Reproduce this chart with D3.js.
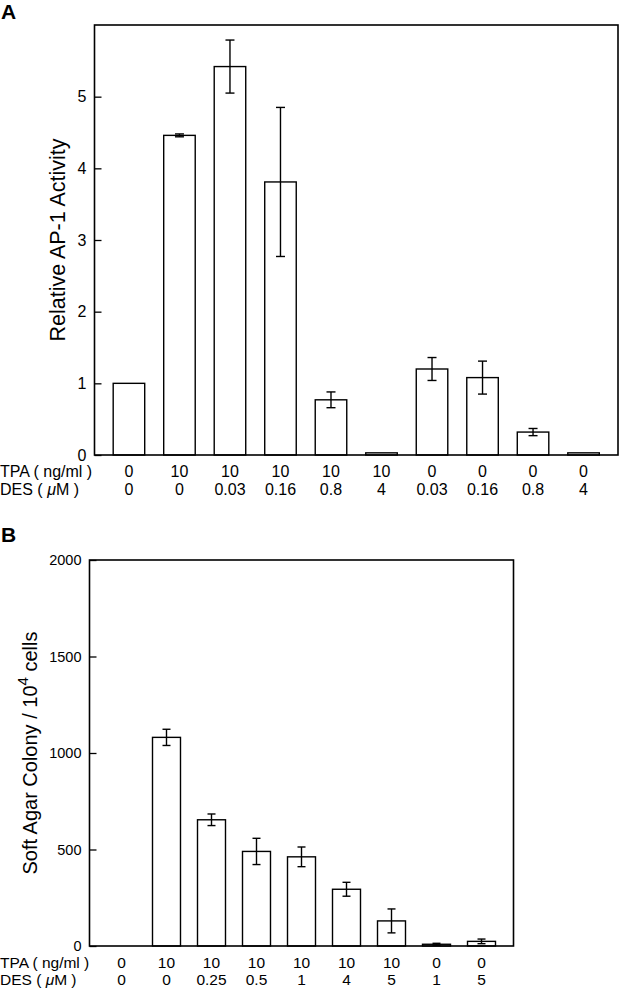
<!DOCTYPE html>
<html>
<head>
<meta charset="utf-8">
<script src="https://cdn.jsdelivr.net/npm/d3@7"></script>
<style>
  body { margin: 0; background: #fff; }
  svg text { font-family: "Liberation Sans", Arial, sans-serif; fill: #000; }
</style>
</head>
<body>
<script>
// Panel A: AP-1 activity
const tpaA = ["0", "10", "10", "10", "10", "10", "0", "0", "0", "0"];
const desA = ["0", "0", "0.03", "0.16", "0.8", "4", "0.03", "0.16", "0.8", "4"];
const valuesA = [1.0, 4.46, 5.42, 3.81, 0.77, 0.03, 1.20, 1.08, 0.32, 0.03];
const errorsA = [0, 0.02, 0.37, 1.04, 0.11, 0, 0.16, 0.23, 0.05, 0];
const ticksA = [0, 1, 2, 3, 4, 5];

// Panel B: soft agar colonies
const tpaB = ["0", "10", "10", "10", "10", "10", "10", "0", "0"];
const desB = ["0", "0", "0.25", "0.5", "1", "4", "5", "1", "5"];
const valuesB = [0, 1081, 654, 490, 462, 294, 130, 9, 24];
const errorsB = [0, 42, 30, 68, 51, 36, 62, 5, 12];
const ticksB = [0, 500, 1000, 1500, 2000];

let width = 620, height = 989;

let svg = d3.select("body").append("svg")
  .attr("width", width)
  .attr("height", height);

// draws one panel: frame, bars, error bars, y axis and the two label rows
function panel(o) {
  let x = d3.scaleBand()
    .domain(d3.range(o.values.length))
    .range([o.left, o.right])
    .paddingInner(o.padIn)
    .paddingOuter(o.padOut);

  let y = d3.scaleLinear()
    .domain(o.domain)
    .range([o.bottom, o.top]);

  let g = svg.append("g");

  // y axis, ticks pointing into the plot
  let ax = g.append("g")
    .attr("transform", "translate(" + o.left + ",0)")
    .call(d3.axisLeft(y)
      .tickValues(o.ticks)
      .tickFormat(d3.format("d"))
      .tickSizeInner(-7)
      .tickSizeOuter(0)
      .tickPadding(8));
  ax.select(".domain").remove();
  ax.selectAll(".tick line").attr("stroke", "#000").attr("stroke-width", 1.3);
  ax.selectAll(".tick text")
    .style("font-size", o.tickFont + "px")
    .attr("font-family", null);

  // bars
  g.selectAll("rect.bar")
    .data(o.values)
    .enter()
    .append("rect")
    .attr("class", "bar")
    .attr("x", (d, i) => x(i))
    .attr("width", x.bandwidth())
    .attr("y", d => y(d))
    .attr("height", d => y(0) - y(d))
    .attr("fill", "#fff")
    .attr("stroke", "#000")
    .attr("stroke-width", 1.4);

  // error bars
  let eb = g.selectAll("g.err")
    .data(o.values.map((v, i) => ({v: v, e: o.errors[i], i: i})).filter(d => d.e > 0))
    .enter()
    .append("g")
    .attr("class", "err")
    .attr("stroke", "#000")
    .attr("stroke-width", 1.4);
  let cx = d => x(d.i) + x.bandwidth() / 2;
  eb.append("line")
    .attr("x1", cx).attr("x2", cx)
    .attr("y1", d => y(d.v + d.e)).attr("y2", d => y(d.v - d.e));
  eb.append("line")
    .attr("x1", d => cx(d) - o.cap / 2).attr("x2", d => cx(d) + o.cap / 2)
    .attr("y1", d => y(d.v + d.e)).attr("y2", d => y(d.v + d.e));
  eb.append("line")
    .attr("x1", d => cx(d) - o.cap / 2).attr("x2", d => cx(d) + o.cap / 2)
    .attr("y1", d => y(d.v - d.e)).attr("y2", d => y(d.v - d.e));

  // frame
  g.append("rect")
    .attr("x", o.left)
    .attr("y", o.top)
    .attr("width", o.right - o.left)
    .attr("height", o.bottom - o.top)
    .attr("fill", "none")
    .attr("stroke", "#000")
    .attr("stroke-width", 1.6);

  // treatment rows under the plot
  let rows = [
    {name: "TPA", values: o.tpa, y: o.rowY[0]},
    {name: "DES", values: o.des, y: o.rowY[1]}
  ];
  rows.forEach(r => {
    let t = g.append("text")
      .attr("x", 0)
      .attr("y", r.y)
      .style("font-size", o.rowFont + "px");
    if (r.name === "TPA") {
      t.text("TPA ( ng/ml )");
    } else {
      t.append("tspan").text("DES ( ");
      t.append("tspan").style("font-style", "italic").text("\u03bc");
      t.append("tspan").text("M )");
    }
    g.selectAll(null)
      .data(r.values)
      .enter()
      .append("text")
      .attr("x", (d, i) => x(i) + x.bandwidth() / 2)
      .attr("y", r.y)
      .attr("text-anchor", "middle")
      .style("font-size", o.rowFont + "px")
      .text(d => d);
  });

  // panel letter
  g.append("text")
    .attr("x", 1)
    .attr("y", o.letterY)
    .style("font-size", "21px")
    .style("font-weight", "bold")
    .text(o.letter);

  return g;
}

let gA = panel({
  values: valuesA, errors: errorsA, tpa: tpaA, des: desA, ticks: ticksA,
  domain: [0, 6], left: 94.5, right: 618, top: 25, bottom: 455,
  padIn: 0.376, padOut: 0.37, cap: 9, tickFont: 16, rowFont: 16,
  rowY: [477, 495], letter: "A", letterY: 19
});

gA.append("text")
  .attr("transform", "translate(65,240) rotate(-90)")
  .attr("text-anchor", "middle")
  .style("font-size", "21.5px")
  .text("Relative AP-1 Activity");

let gB = panel({
  values: valuesB, errors: errorsB, tpa: tpaB, des: desB, ticks: ticksB,
  domain: [0, 2000], left: 89.5, right: 513.5, top: 560, bottom: 946,
  padIn: 0.378, padOut: 0.4, cap: 8, tickFont: 14.5, rowFont: 15.5,
  rowY: [968, 985], letter: "B", letterY: 542
});

let lb = gB.append("text")
  .attr("transform", "translate(37,753) rotate(-90)")
  .attr("text-anchor", "middle")
  .style("font-size", "20px");
lb.append("tspan").text("Soft Agar Colony / 10");
lb.append("tspan").attr("dy", -9).style("font-size", "15px").text("4");
lb.append("tspan").attr("dy", 9).text(" cells");
</script>
</body>
</html>
